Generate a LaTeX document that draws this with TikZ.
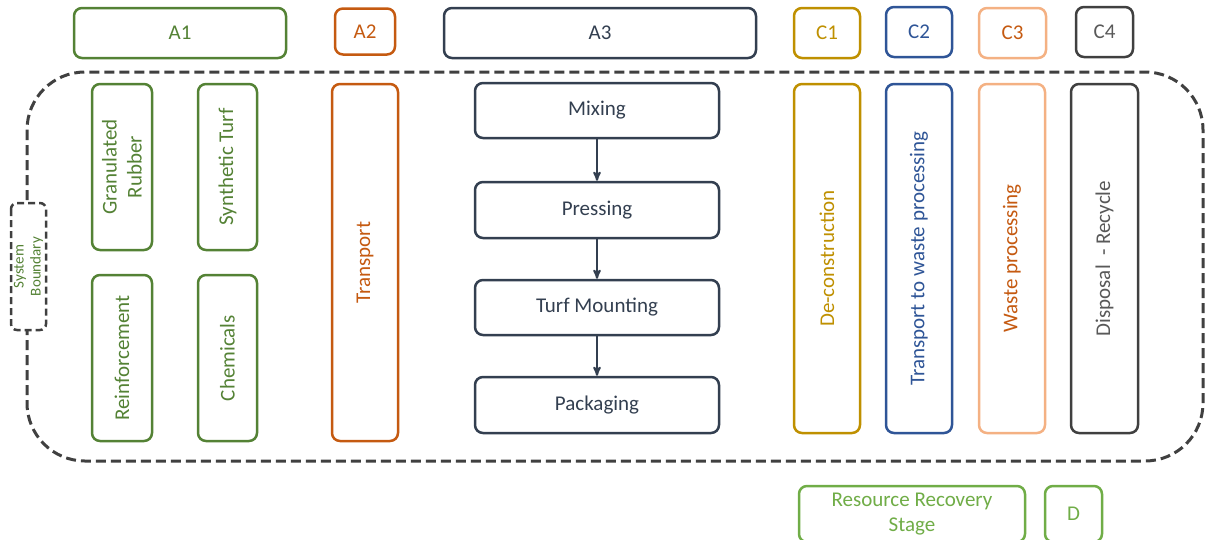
\documentclass[tikz,border=0pt]{standalone}
\usepackage{fontspec}
\setmainfont{Carlito}
\usepackage{tikz}
\usetikzlibrary{arrows,positioning}

\definecolor{agreen}{HTML}{548235}
\definecolor{lgreen}{HTML}{70AD47}
\definecolor{aorange}{HTML}{C55A11}
\definecolor{slate}{HTML}{333F50}
\definecolor{cgold}{HTML}{BF9000}
\definecolor{cblue}{HTML}{2F5597}
\definecolor{cpeach}{HTML}{F4B183}
\definecolor{cgray}{HTML}{404040}
\definecolor{tgray}{HTML}{595959}

\begin{document}
\begin{tikzpicture}[x=1pt,y=-1pt,>=stealth',
                    every node/.style={font=\fontsize{21}{25}\selectfont}]
	\tikzstyle{stage}=[draw,rounded corners=8pt,line width=2.5pt,fill=white,align=center,inner sep=1pt]
	\tikzstyle{flow}=[->,line width=2pt,draw=slate]
	\tikzstyle{boundary}=[draw=cgray,line width=3pt,dash pattern=on 10pt off 5pt,rounded corners=58pt]

	\useasboundingbox (0,0) rectangle (1205,539);
	\clip (0,0) rectangle (1205,539);

	% system boundary
	\draw[boundary] (27,72) rectangle (1203,461);

	% module headers
	\node[stage,draw=agreen,text=agreen,minimum width=212pt,minimum height=50pt]	(A1)	at (180,33)	{A1};
	\node[stage,draw=aorange,text=aorange,minimum width=60pt,minimum height=46pt]	(A2)	at (365,31.5)	{A2};
	\node[stage,draw=slate,text=slate,minimum width=312pt,minimum height=50pt]	(A3)	at (600,33)	{A3};
	\node[stage,draw=cgold,text=cgold,minimum width=66pt,minimum height=50pt]	(C1)	at (827,33)	{C1};
	\node[stage,draw=cblue,text=cblue,minimum width=66pt,minimum height=50pt]	(C2)	at (919,32)	{C2};
	\node[stage,draw=cpeach,text=aorange,minimum width=67pt,minimum height=50pt]	(C3)	at (1012.5,33)	{C3};
	\node[stage,draw=cgray,text=tgray,minimum width=57pt,minimum height=50pt]	(C4)	at (1104.5,32)	{C4};

	% A1 raw materials
	\node[stage,draw=agreen,text=agreen,rotate=90,minimum width=166pt,minimum height=60pt]	(rubber)	at (122,167)	{Granulated\\Rubber};
	\node[stage,draw=agreen,text=agreen,rotate=90,minimum width=166pt,minimum height=59pt]	(turf)	at (227.5,167)	{Synthetic Turf};
	\node[stage,draw=agreen,text=agreen,rotate=90,minimum width=166pt,minimum height=60pt]	(reinf)	at (122,358)	{Reinforcement};
	\node[stage,draw=agreen,text=agreen,rotate=90,minimum width=166pt,minimum height=59pt]	(chem)	at (227.5,358)	{Chemicals};

	% A2
	\node[stage,draw=aorange,text=aorange,rotate=90,minimum width=357pt,minimum height=66pt]	(transport)	at (365,262.5)	{Transport};

	% A3 manufacturing
	\node[stage,draw=slate,text=slate,minimum width=244pt,minimum height=55pt]	(mix)	at (597,110.5)	{Mixing};
	\node[stage,draw=slate,text=slate,minimum width=244pt,minimum height=56pt]	(press)	at (597,210)	{Pressing};
	\node[stage,draw=slate,text=slate,minimum width=244pt,minimum height=55pt]	(mount)	at (597,307.5)	{Turf Mounting};
	\node[stage,draw=slate,text=slate,minimum width=244pt,minimum height=56pt]	(pack)	at (597,405)	{Packaging};

	\draw[flow] (mix) -- (press);
	\draw[flow] (press) -- (mount);
	\draw[flow] (mount) -- (pack);

	% end of life
	\node[stage,draw=cgold,text=cgold,rotate=90,minimum width=349pt,minimum height=66pt]	(decon)	at (827,258.5)	{De-construction};
	\node[stage,draw=cblue,text=cblue,rotate=90,minimum width=349pt,minimum height=66pt]	(towaste)	at (919,258.5)	{Transport to waste processing};
	\node[stage,draw=cpeach,text=aorange,rotate=90,minimum width=349pt,minimum height=66pt]	(wproc)	at (1012,258.5)	{Waste processing};
	\node[stage,draw=cgray,text=tgray,rotate=90,minimum width=349pt,minimum height=67pt]	(disp)	at (1104.5,258.5)	{Disposal~ - Recycle};

	% beyond the boundary
	\node[stage,draw=lgreen,text=lgreen,minimum width=226pt,minimum height=56pt]	(recovery)	at (912,514)	{Resource Recovery\\Stage};
	\node[stage,draw=lgreen,text=lgreen,minimum width=57pt,minimum height=56pt]	(D)	at (1073.5,514)	{D};

	\node[stage,draw=cgray,text=agreen,rotate=90,line width=2.5pt,dash pattern=on 7pt off 4pt,
	      rounded corners=6pt,minimum width=127pt,minimum height=35pt,inner sep=0pt,
	      font=\fontsize{15}{17}\selectfont]	(sysb)	at (28.5,266.5)	{System\\Boundary};
\end{tikzpicture}
\end{document}
